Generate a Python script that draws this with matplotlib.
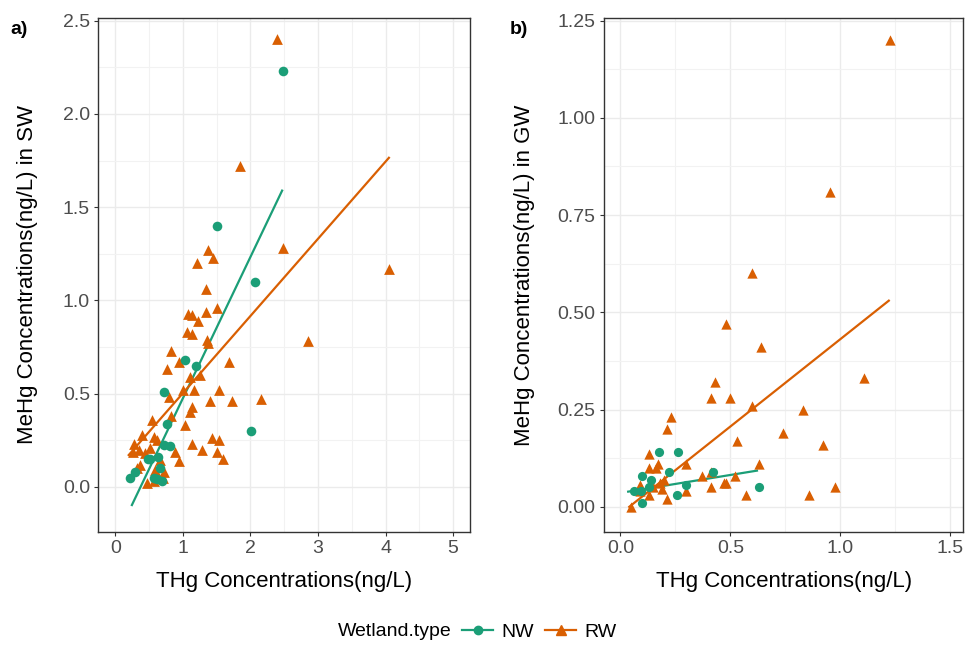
import numpy as np
import matplotlib
matplotlib.use("Agg")
import matplotlib.pyplot as plt
from matplotlib.lines import Line2D
from matplotlib.ticker import MultipleLocator

plt.rcParams['font.family'] = ['Liberation Sans', 'DejaVu Sans']

green = '#1b9e77'
orange = '#d95f02'

# panel a) surface water, NW
sw_nw_thg = [0.22, 0.30, 0.49, 0.52, 0.57, 0.62, 0.64, 0.67, 0.69, 0.72, 0.81, 0.77,
             0.72, 1.04, 1.19, 1.50, 2.07, 2.01, 2.49]
sw_nw_mehg = [0.05, 0.08, 0.15, 0.15, 0.05, 0.04, 0.16, 0.10, 0.03, 0.225, 0.22, 0.34,
              0.51, 0.68, 0.65, 1.40, 1.10, 0.30, 2.23]

# panel a) surface water, RW
sw_rw_thg = [2.40, 1.84, 1.38, 1.45, 1.21, 2.48, 1.35, 1.08, 1.14, 1.22, 1.35, 1.51,
             1.06, 1.14, 1.36, 1.37, 2.86, 0.825, 0.77, 0.95, 1.68, 1.11, 1.26, 1.53,
             0.80, 1.00, 1.16, 1.41, 1.73, 2.16, 1.14, 1.11, 0.83, 0.54, 1.03, 1.43,
             1.53, 1.14, 1.28, 1.50, 1.60, 0.95, 0.88, 4.05, 0.40, 0.57, 0.62, 0.27,
             0.345, 0.44, 0.52, 0.37, 0.32, 0.59, 0.72, 0.47, 0.57, 0.28, 0.67, 0.70]
sw_rw_mehg = [2.40, 1.72, 1.27, 1.23, 1.20, 1.28, 1.06, 0.93, 0.92, 0.89, 0.94, 0.96,
              0.83, 0.82, 0.79, 0.77, 0.78, 0.73, 0.63, 0.67, 0.67, 0.59, 0.60, 0.52,
              0.48, 0.52, 0.52, 0.46, 0.46, 0.47, 0.43, 0.40, 0.38, 0.36, 0.33, 0.26,
              0.25, 0.23, 0.20, 0.19, 0.15, 0.14, 0.19, 1.17, 0.28, 0.27, 0.25, 0.19,
              0.20, 0.18, 0.21, 0.12, 0.10, 0.09, 0.08, 0.02, 0.03, 0.23, 0.145, 0.05]

# panel b) groundwater, NW
gw_nw_thg = [0.174, 0.26, 0.22, 0.10, 0.14, 0.06, 0.095, 0.10, 0.13, 0.255, 0.30, 0.42, 0.63]
gw_nw_mehg = [0.14, 0.14, 0.09, 0.08, 0.07, 0.04, 0.04, 0.01, 0.05, 0.03, 0.055, 0.09, 0.05]

# panel b) groundwater, RW
gw_rw_thg = [1.225, 0.955, 0.60, 0.48, 0.64, 1.108, 0.43, 0.41, 0.50, 0.60, 0.83, 0.23,
             0.21, 0.74, 0.53, 0.92, 0.13, 0.17, 0.13, 0.16, 0.30, 0.63, 0.37, 0.41,
             0.52, 0.41, 0.47, 0.48, 0.57, 0.86, 0.975, 0.21, 0.30, 0.05, 0.09, 0.13,
             0.15, 0.18, 0.20, 0.088, 0.187]
gw_rw_mehg = [1.20, 0.81, 0.60, 0.47, 0.41, 0.33, 0.32, 0.28, 0.28, 0.26, 0.25, 0.23,
              0.20, 0.19, 0.17, 0.16, 0.135, 0.11, 0.10, 0.10, 0.11, 0.11, 0.08, 0.09,
              0.08, 0.05, 0.06, 0.06, 0.03, 0.03, 0.05, 0.02, 0.04, 0.0, 0.04, 0.03,
              0.05, 0.06, 0.07, 0.056, 0.047]

# linear fit lines (start, end)
sw_nw_fit_x, sw_nw_fit_y = [0.247, 2.47], [-0.097, 1.589]
sw_rw_fit_x, sw_rw_fit_y = [0.20, 4.05], [0.171, 1.765]
gw_nw_fit_x, gw_nw_fit_y = [0.035, 0.621], [0.039, 0.093]
gw_rw_fit_x, gw_rw_fit_y = [0.04, 1.221], [0.0, 0.530]

fig = plt.figure(figsize=(9.67, 6.45), dpi=100)
ax1 = fig.add_axes([98.3 / 967, 1 - 531.7 / 645, (470 - 98.3) / 967, (531.7 - 18.3) / 645])
ax2 = fig.add_axes([604 / 967, 1 - 531.7 / 645, (963.3 - 604) / 967, (531.7 - 18.3) / 645])


def style(ax, xmaj, ymaj):
    ax.xaxis.set_major_locator(MultipleLocator(xmaj))
    ax.xaxis.set_minor_locator(MultipleLocator(xmaj / 2))
    ax.yaxis.set_major_locator(MultipleLocator(ymaj))
    ax.yaxis.set_minor_locator(MultipleLocator(ymaj / 2))
    ax.grid(which='major', color='#ebebeb', linewidth=1.0, zorder=0)
    ax.grid(which='minor', color='#f2f2f2', linewidth=0.8, zorder=0)
    ax.set_axisbelow(True)
    for s in ax.spines.values():
        s.set_color('#333333')
        s.set_linewidth(1.0)
    ax.tick_params(which='major', length=3, width=0.8, color='#333333',
                   labelsize=14, labelcolor='#4d4d4d', pad=3)
    ax.tick_params(which='minor', length=0)


ax1.plot(sw_nw_fit_x, sw_nw_fit_y, color=green, lw=1.6, zorder=3)
ax1.plot(sw_rw_fit_x, sw_rw_fit_y, color=orange, lw=1.6, zorder=3)
ax1.scatter(sw_rw_thg, sw_rw_mehg, marker='^', s=60, color=orange, linewidths=0, zorder=4)
ax1.scatter(sw_nw_thg, sw_nw_mehg, marker='o', s=48, color=green, linewidths=0, zorder=4)
ax1.set_xlim(-0.25, 5.25)
ax1.set_ylim(-0.24, 2.513)
style(ax1, 1, 0.5)
ax1.set_xticks([0, 1, 2, 3, 4, 5])
ax1.set_xticklabels(['0', '1', '2', '3', '4', '5'])
ax1.set_yticks([0.0, 0.5, 1.0, 1.5, 2.0, 2.5])
ax1.set_yticklabels(['0.0', '0.5', '1.0', '1.5', '2.0', '2.5'])
ax1.set_xlabel('THg Concentrations(ng/L)', fontsize=16, labelpad=10)
ax1.set_ylabel('MeHg Concentrations(ng/L) in SW', fontsize=16, labelpad=18)

ax2.plot(gw_nw_fit_x, gw_nw_fit_y, color=green, lw=1.6, zorder=3)
ax2.plot(gw_rw_fit_x, gw_rw_fit_y, color=orange, lw=1.6, zorder=3)
ax2.scatter(gw_rw_thg, gw_rw_mehg, marker='^', s=55, color=orange, linewidths=0, zorder=4)
ax2.scatter(gw_nw_thg, gw_nw_mehg, marker='o', s=44, color=green, linewidths=0, zorder=4)
ax2.set_xlim(-0.075, 1.56)
ax2.set_ylim(-0.064, 1.256)
style(ax2, 0.5, 0.25)
ax2.set_xticks([0.0, 0.5, 1.0, 1.5])
ax2.set_xticklabels(['0.0', '0.5', '1.0', '1.5'])
ax2.set_yticks([0.0, 0.25, 0.5, 0.75, 1.0, 1.25])
ax2.set_yticklabels(['0.00', '0.25', '0.50', '0.75', '1.00', '1.25'])
ax2.set_xlabel('THg Concentrations(ng/L)', fontsize=16, labelpad=10)
ax2.set_ylabel('MeHg Concentrations(ng/L) in GW', fontsize=16, labelpad=16)

fig.text(10 / 967, 1 - 30 / 645, 'a)', fontsize=14, fontweight='bold', va='center', ha='left')
fig.text(510 / 967, 1 - 30 / 645, 'b)', fontsize=14, fontweight='bold', va='center', ha='left')

# legend at bottom
fig.text(338 / 967, 1 - 632 / 645, 'Wetland.type', fontsize=14, va='center', ha='left')
handles = [Line2D([], [], color=green, marker='o', markersize=6, lw=1.6),
           Line2D([], [], color=orange, marker='^', markersize=7, lw=1.6)]
fig.legend(handles, ['NW', 'RW'], ncol=2, loc='center left',
           bbox_to_anchor=(462 / 967, 1 - 632 / 645), frameon=False,
           fontsize=14, handlelength=1.6, handletextpad=0.4, columnspacing=0.6,
           borderpad=0, borderaxespad=0)

fig.savefig('out.png', dpi=100)
